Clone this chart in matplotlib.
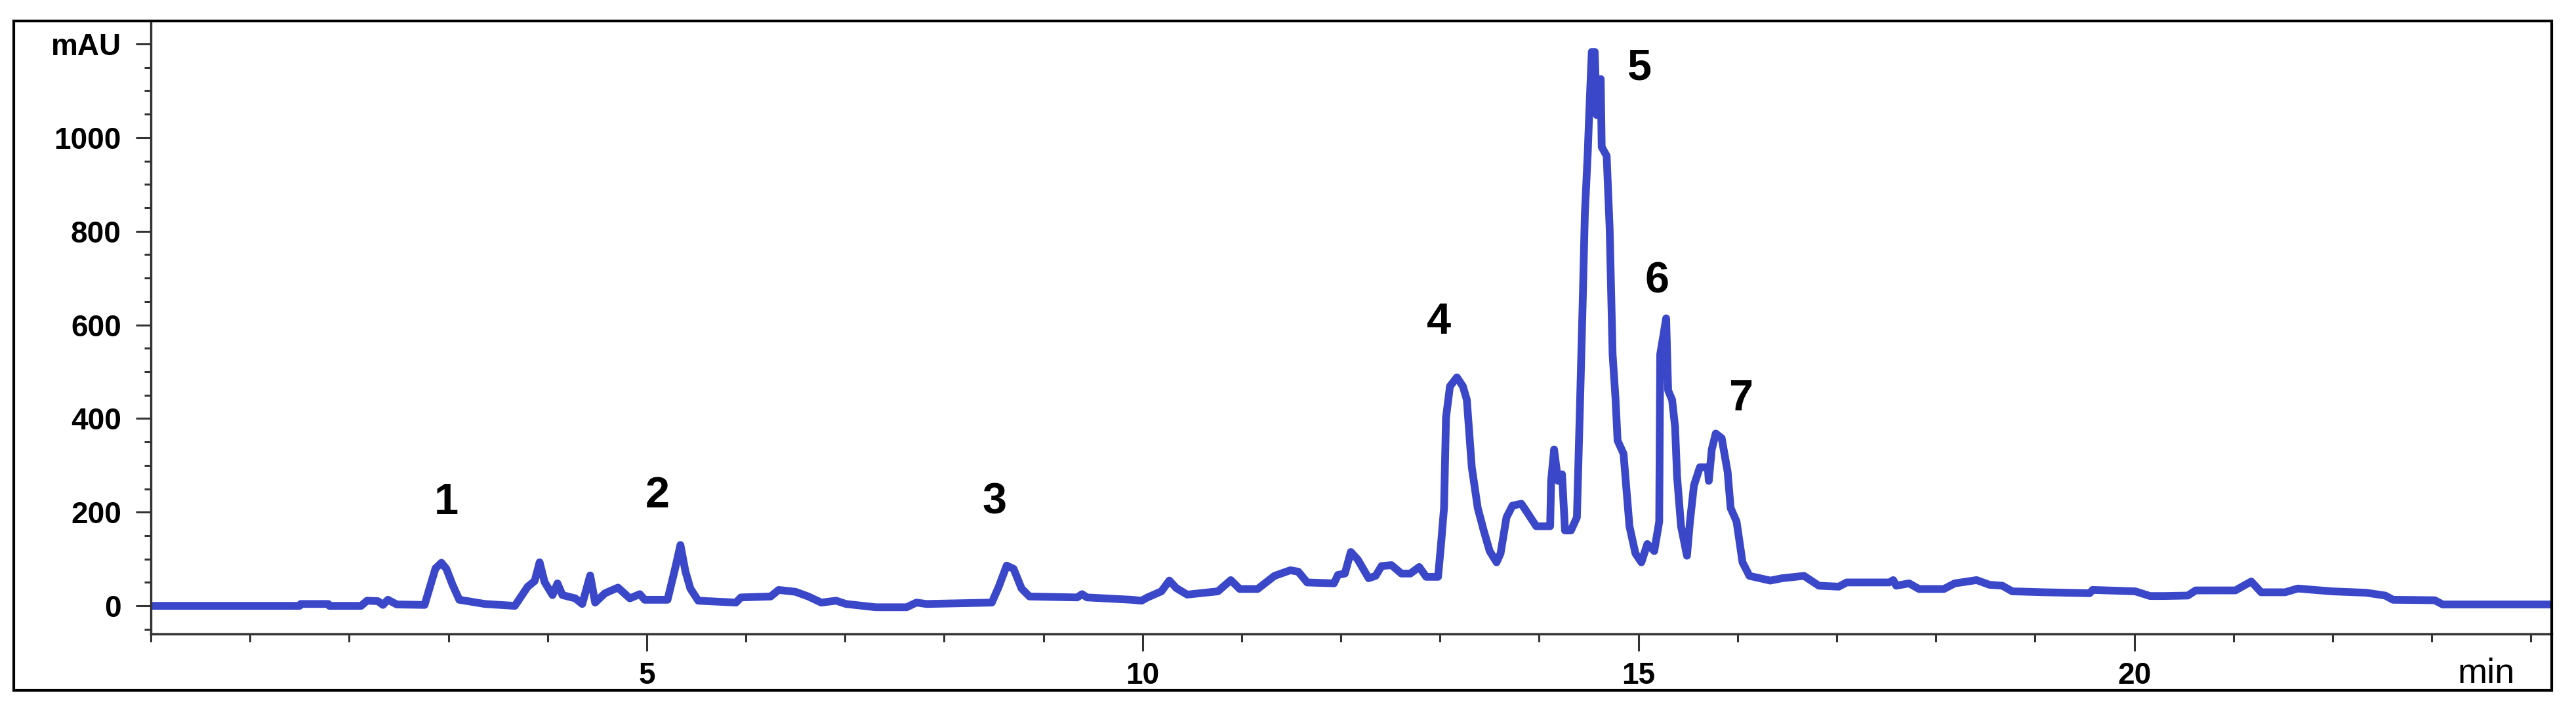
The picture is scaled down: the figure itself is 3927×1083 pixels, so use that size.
import matplotlib.pyplot as plt
from matplotlib.patches import Rectangle
from matplotlib.ticker import MultipleLocator

# chromatogram trace (min, mAU)
time_min = [0, 1.50, 1.51, 1.79, 1.80, 2.12, 2.18, 2.29, 2.34, 2.39, 2.48, 2.76,
            2.87, 2.93, 2.98, 3.04, 3.11, 3.37, 3.67, 3.80, 3.87, 3.92, 3.97,
            4.05, 4.10, 4.15, 4.28, 4.35, 4.43, 4.48, 4.58, 4.71, 4.83, 4.93,
            4.98, 5.21, 5.29, 5.34, 5.39, 5.44, 5.52, 5.90, 5.95, 6.25, 6.33,
            6.50, 6.63, 6.76, 6.91, 7.01, 7.31, 7.62, 7.72, 7.82, 8.48, 8.55,
            8.63, 8.70, 8.78, 8.86, 9.34, 9.39, 9.44, 9.89, 9.99, 10.05, 10.19,
            10.27, 10.34, 10.45, 10.76, 10.89, 10.98, 11.16, 11.33, 11.49, 11.57,
            11.66, 11.93, 11.97, 12.04, 12.10, 12.17, 12.28, 12.35, 12.41, 12.51,
            12.61, 12.70, 12.79, 12.86, 12.98, 13.01, 13.04, 13.06, 13.10, 13.17,
            13.23, 13.27, 13.32, 13.38, 13.44, 13.50, 13.57, 13.61, 13.67, 13.73,
            13.82, 13.88, 13.97, 14.11, 14.12, 14.15, 14.19, 14.23, 14.26, 14.32,
            14.38, 14.41, 14.44, 14.46, 14.49, 14.50, 14.53, 14.56, 14.58, 14.62,
            14.63, 14.68, 14.71, 14.74, 14.77, 14.79, 14.85, 14.91, 14.97, 15.03,
            15.09, 15.16, 15.21, 15.22, 15.25, 15.28, 15.30, 15.34, 15.37, 15.39,
            15.43, 15.49, 15.52, 15.56, 15.62, 15.70, 15.71, 15.74, 15.78, 15.84,
            15.90, 15.93, 15.99, 16.05, 16.12, 16.33, 16.45, 16.67, 16.82, 17.02,
            17.10, 17.53, 17.57, 17.60, 17.73, 17.83, 18.08, 18.19, 18.41, 18.54,
            18.67, 18.77, 19.10, 19.55, 19.58, 20.01, 20.16, 20.30, 20.54, 20.62,
            21.02, 21.18, 21.28, 21.52, 21.65, 21.99, 22.34, 22.53, 22.61, 23.03,
            23.11, 24.22]
absorbance = [0, 0, 4, 4, 0, 0, 11, 10, 2, 13, 3, 2,
              80, 92, 79, 46, 13, 4, 0, 41, 53, 93, 51,
              23, 48, 23, 16, 4, 65, 7, 27, 39, 16, 25,
              13, 13, 83, 130, 74, 37, 11, 7, 18, 20, 34,
              30, 20, 7, 11, 4, -3, -3, 7, 4, 7, 41,
              86, 79, 37, 20, 18, 25, 18, 13, 11, 18, 31,
              54, 38, 24, 31, 55, 36, 36, 64, 76, 73,
              50, 48, 66, 69, 115, 99, 59, 64, 85, 87,
              69, 69, 83, 62, 62, 132, 209, 402, 469, 488,
              469, 440, 296, 209, 161, 117, 93, 112, 189, 214,
              218, 199, 170, 170, 267, 334, 267, 281, 161, 161,
              189, 421, 662, 836, 971, 1029, 1183, 1183, 1048, 1125,
              980, 961, 807, 537, 440, 353, 325, 170, 112, 93,
              132, 117, 180, 537, 575, 614, 460, 440, 382, 276,
              170, 107, 180, 257, 296, 296, 267, 334, 368, 358,
              286, 209, 180, 93, 64, 54, 59, 64, 43, 41,
              50, 50, 55, 43, 48, 36, 36, 48, 55, 45,
              43, 31, 29, 27, 34, 31, 21, 21, 22, 33,
              33, 52, 29, 29, 37, 31, 28, 22, 13, 12,
              3, 3]

# peak numbers and where they sit
peak_names = ['1', '2', '3', '4', '5', '6', '7']
peak_t = [2.98, 5.11, 8.51, 12.99, 15.01, 15.19, 16.03]
peak_v = [220, 234, 220, 605, 1147, 692, 441]

x_ticks = [5, 10, 15, 20]
y_ticks = [0, 200, 400, 600, 800, 1000, 1200]
y_labels = ['0', '200', '400', '600', '800', '1000', 'mAU']

W, H = 3927, 1083
fig = plt.figure(figsize=(W / 100, H / 100), dpi=100)
ax = fig.add_axes([230 / W, 1 - 967 / H, (3890 - 230) / W, (967 - 32) / H])

ax.plot(time_min, absorbance, color='#3b47c9', linewidth=8.5, solid_joinstyle='round')

for name, t, v in zip(peak_names, peak_t, peak_v):
    ax.text(t, v, name, ha='center', va='center', fontsize=48,
            fontweight='bold', family='Liberation Sans')

ax.set_xlim(0, 24.21)
ax.set_ylim(-60, 1249)

ax.set_xticks(x_ticks)
ax.set_xticklabels([str(x) for x in x_ticks])
ax.xaxis.set_minor_locator(MultipleLocator(1))
ax.set_yticks(y_ticks)
ax.set_yticklabels(y_labels)
ax.yaxis.set_minor_locator(MultipleLocator(50))

ax.tick_params(axis='y', which='major', length=16.5, width=2.2, pad=16, color='#333333')
ax.tick_params(axis='y', which='minor', length=7, width=2.2, color='#333333')
ax.tick_params(axis='x', which='major', length=19, width=2.2, pad=11, color='#333333')
ax.tick_params(axis='x', which='minor', length=8.5, width=2.2, color='#333333')
for lab in ax.get_xticklabels() + ax.get_yticklabels():
    lab.set_fontsize(33)
    lab.set_fontweight('bold')
    lab.set_family('Liberation Sans')

ax.spines['top'].set_visible(False)
ax.spines['right'].set_visible(False)
ax.spines['left'].set_linewidth(2.5)
ax.spines['left'].set_color('#333333')
ax.spines['bottom'].set_linewidth(2.5)
ax.spines['bottom'].set_color('#333333')

fig.text(3790 / W, 1 - 1042 / H, 'min', ha='center', va='baseline',
         fontsize=39, family='Liberation Sans')

# outer box round the whole picture
fig.patches.append(Rectangle((21 / W, 1 - 1053 / H), (3890 - 21) / W, (1053 - 32) / H,
                             transform=fig.transFigure, fill=False,
                             edgecolor='black', linewidth=3))

fig.savefig('out.png', dpi=100)
plt.close()
